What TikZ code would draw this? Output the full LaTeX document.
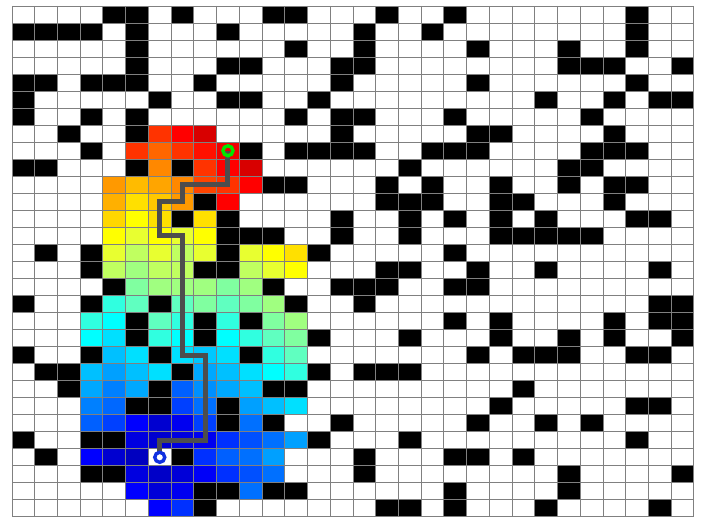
\documentclass[tikz,border=0pt]{standalone}
\usepackage{tikz}

\definecolor{gridline}{HTML}{808080}
\definecolor{routegray}{HTML}{4D4D4D}
\definecolor{startgreen}{HTML}{00E600}
\definecolor{goalblue}{HTML}{1030E0}

\tikzset{
  wall/.style={fill=black},
  gridrule/.style={draw=gridline, line width=0.9pt},
  route/.style={draw=routegray, line width=5pt, line join=miter},
  startring/.style={draw=startgreen, line width=3.4pt},
  goalring/.style={draw=goalblue, fill=white, line width=3.4pt}
}

\begin{document}
\begin{tikzpicture}[x=22.73pt, y=-17.03pt]
    \useasboundingbox (-0.528,-0.352) rectangle (30.62,30.42);

    % walls, row by row
    \foreach \row/\cols in {
        0/{4,5,7,11,12,16,19,27},
        1/{0,1,2,3,5,9,15,18,27},
        2/{5,12,15,20,24,27},
        3/{5,9,10,14,15,24,25,26,29},
        4/{0,1,3,4,5,8,14,20,27},
        5/{0,6,9,10,13,23,26,28,29},
        6/{0,3,5,12,14,15,19,25},
        7/{2,5,14,20,21,26},
        8/{3,10,12,13,14,15,18,19,20,25,26,27},
        9/{0,1,5,7,17,24,25},
        10/{11,12,16,18,21,24,26,27},
        11/{8,16,17,18,21,22,26},
        12/{7,9,14,17,19,21,23,27,28},
        13/{9,10,11,14,17,21,22,23,24,25},
        14/{1,3,9,13,19},
        15/{3,8,9,16,17,20,23,28},
        16/{4,11,14,15,16,19,20},
        17/{0,3,6,12,15,28,29},
        18/{5,8,10,19,21,26,28,29},
        19/{5,8,13,17,21,24,26,29},
        20/{0,3,6,10,20,22,23,24,27,28},
        21/{1,2,7,13,15,16,17},
        22/{2,6,11,12,22},
        23/{5,6,9,21,27,28},
        24/{9,11,14,20,23,25},
        25/{0,3,4,13,17,27},
        26/{1,7,15,19,20,22},
        27/{3,4,15,24,29},
        28/{8,9,11,12,19,24},
        29/{8,16,17,19,23,28}}
        \foreach \col in \cols
            \fill[wall] (\col,\row) rectangle ++(1,1);

    % visited cells, coloured by cost
    \foreach \col/\row/\hx in {
        6/7/FF3300, 7/7/FF0000, 8/7/D80000,
        5/8/FF3300, 6/8/FF6600, 7/8/FF3300, 8/8/FF1000, 9/8/F00000,
        6/9/FF8800, 8/9/FF3300, 9/9/FF0000, 10/9/D80000,
        4/10/FF9900, 5/10/FFBB00, 6/10/FFA500, 7/10/FF8800, 8/10/FF4400, 9/10/FF3300, 10/10/FF0000,
        4/11/FFB000, 5/11/FFE000, 6/11/FFC800, 7/11/FF9900, 9/11/FF0000,
        4/12/FFD700, 5/12/FFFF00, 6/12/FFE000, 8/12/FFE000,
        4/13/FFFF00, 5/13/E8FF30, 6/13/FFFF00, 7/13/E8FF30, 8/13/FFFF00,
        4/14/E8FF30, 5/14/C0FF60, 6/14/E8FF30, 7/14/C0FF60, 8/14/E8FF30, 10/14/E8FF30, 11/14/FFFF00, 12/14/FFE000,
        4/15/C0FF60, 5/15/A0FF80, 6/15/C0FF60, 7/15/C0FF60, 10/15/C0FF60, 11/15/E8FF30, 12/15/FFFF00,
        5/16/80FFA0, 6/16/A0FF80, 7/16/A0FF80, 8/16/A0FF80, 9/16/80FFA0, 10/16/A0FF80,
        4/17/30FFE0, 5/17/60FFC0, 7/17/60FFC0, 8/17/80FFA0, 9/17/60FFC0, 10/17/80FFA0, 11/17/A0FF80,
        3/18/30FFE0, 4/18/00FFFF, 6/18/60FFC0, 7/18/30FFE0, 9/18/30FFE0, 11/18/80FFA0, 12/18/A0FF80,
        3/19/00FFFF, 4/19/00E0FF, 6/19/30FFE0, 7/19/00FFFF, 9/19/00FFFF, 10/19/30FFE0, 11/19/60FFC0, 12/19/80FFA0,
        4/20/00C0FF, 5/20/00E0FF, 7/20/00E0FF, 8/20/00C8FF, 9/20/00E0FF, 11/20/30FFE0, 12/20/60FFC0,
        3/21/00C0FF, 4/21/00A0FF, 5/21/00C0FF, 6/21/00E0FF, 8/21/00A8FF, 9/21/00C0FF, 10/21/00E0FF, 11/21/00FFFF, 12/21/30FFE0,
        3/22/00A8FF, 4/22/0080FF, 5/22/00A8FF, 7/22/0060FF, 8/22/0090FF, 9/22/00A8FF, 10/22/00C0FF,
        3/23/0080FF, 4/23/0068FF, 7/23/0040FF, 8/23/0070FF, 10/23/00A0FF, 11/23/00C0FF, 12/23/00E0FF,
        3/24/0060FF, 4/24/0040FF, 5/24/0000FF, 6/24/0000D0, 7/24/0000F0, 8/24/0040FF, 10/24/0070FF,
        5/25/0000E0, 6/25/0000D0, 7/25/0000E0, 8/25/0000F0, 9/25/0030FF, 10/25/0050FF, 11/25/0070FF, 12/25/00A0FF,
        3/26/0000FF, 4/26/0000D0, 5/26/0000C0, 8/26/0030FF, 9/26/0060FF, 10/26/0070FF, 11/26/00A0FF,
        5/27/0000E0, 6/27/0000C8, 7/27/0000D8, 8/27/0000F8, 9/27/0030FF, 10/27/0050FF, 11/27/0070FF,
        5/28/0000FF, 6/28/0000D8, 7/28/0000F0, 10/28/0070FF,
        6/29/0000FF, 7/29/0030FF} {
        \definecolor{visited}{HTML}{\hx}
        \fill[visited] (\col,\row) rectangle ++(1,1);
    }

    % grid
    \foreach \i in {0,...,30} {
        \draw[gridrule] (\i,0) -- (\i,30);
        \draw[gridrule] (0,\i) -- (30,\i);
    }

    \coordinate (start) at (9.5,8.5);
    \coordinate (goal) at (6.5,26.5);

    \draw[route] (start) -- (9.5,10.5) -- (7.5,10.5) -- (7.5,11.5)
        -- (6.5,11.5) -- (6.5,13.5) -- (7.5,13.5) -- (7.5,20.5)
        -- (8.5,20.5) -- (8.5,25.5) -- (6.5,25.5) -- (goal);

    \draw[startring] (start) circle (5pt);
    \draw[goalring] (goal) circle (5pt);
\end{tikzpicture}
\end{document}
